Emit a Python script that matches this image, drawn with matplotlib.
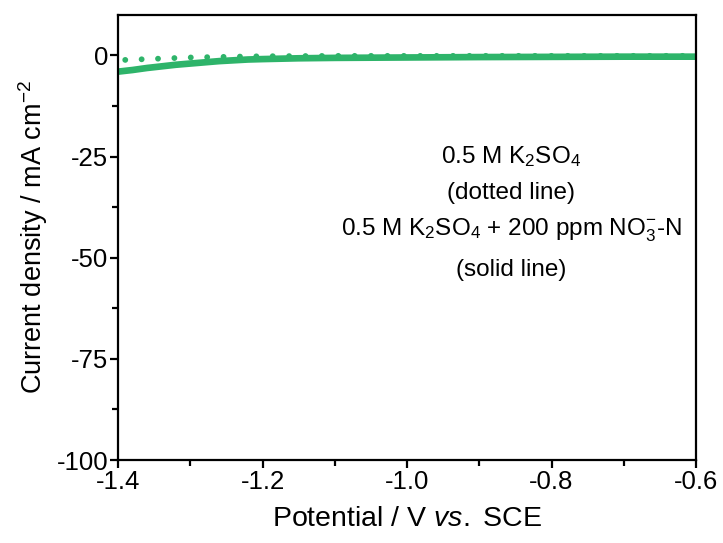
import matplotlib.pyplot as plt

plt.rcParams['font.family'] = ['Liberation Sans', 'DejaVu Sans']
plt.rcParams['mathtext.fontset'] = 'custom'
plt.rcParams['mathtext.rm'] = 'Liberation Sans'
plt.rcParams['mathtext.it'] = 'Liberation Sans:italic'

# K2SO4 only (dotted)
pot_dot = [-1.39, -1.36, -1.33, -1.30, -1.27, -1.24, -1.20, -1.15, -1.10, -1.0, -0.9, -0.8, -0.7, -0.6]
cur_dot = [-1.1, -0.9, -0.7, -0.5, -0.4, -0.3, -0.2, -0.15, -0.1, -0.1, -0.1, -0.1, -0.1, -0.1]
# K2SO4 + nitrate (solid)
pot_sol = [-1.4, -1.38, -1.36, -1.34, -1.32, -1.30, -1.28, -1.26, -1.24, -1.22, -1.20, -1.15, -1.10, -1.0, -0.9, -0.8, -0.7, -0.6]
cur_sol = [-4.0, -3.6, -3.1, -2.7, -2.3, -2.0, -1.7, -1.4, -1.2, -1.0, -0.9, -0.7, -0.6, -0.5, -0.4, -0.35, -0.3, -0.3]

green = '#2eb46a'

fig = plt.figure(figsize=(7.23, 5.43), dpi=100)
ax = fig.add_axes([118 / 723, 1 - 460 / 543, (696 - 118) / 723, (460 - 15) / 543])

ax.plot(pot_dot, cur_dot, color=green, lw=4.2, linestyle=(0, (0.01, 2.8)),
        dash_capstyle='round')
ax.plot(pot_sol, cur_sol, color=green, lw=4.8, solid_capstyle='butt')

ax.set_xlim(-1.4, -0.6)
ax.set_ylim(-100, 10)
ax.set_xticks([-1.4, -1.2, -1.0, -0.8, -0.6])
ax.set_xticklabels(['-1.4', '-1.2', '-1.0', '-0.8', '-0.6'])
ax.set_xticks([-1.3, -1.1, -0.9, -0.7], minor=True)
ax.set_yticks([-100, -75, -50, -25, 0])
ax.set_yticklabels(['-100', '-75', '-50', '-25', '0'])
ax.set_yticks([-87.5, -62.5, -37.5, -12.5], minor=True)

for s in ax.spines.values():
    s.set_linewidth(1.6)
ax.tick_params(which='major', length=6, width=1.6, labelsize=18.5, pad=1)
ax.tick_params(which='minor', length=4, width=1.6)

ax.set_xlabel(r'Potential / V $\it{vs.}$ SCE', fontsize=20.5, labelpad=9)
ax.set_ylabel(r'Current density / mA cm$^{-2}$', fontsize=19.5, labelpad=5)

tx = 0.680
fs = 17.5
ax.text(tx, 0.681, r'0.5 M K$_2$SO$_4$', transform=ax.transAxes, ha='center', va='center', fontsize=fs)
ax.text(tx, 0.600, '(dotted line)', transform=ax.transAxes, ha='center', va='center', fontsize=fs)
ax.text(tx, 0.517, r'0.5 M K$_2$SO$_4$ + 200 ppm NO$_3^{-}$-N', transform=ax.transAxes, ha='center', va='center', fontsize=fs)
ax.text(tx, 0.427, '(solid line)', transform=ax.transAxes, ha='center', va='center', fontsize=fs)

fig.savefig('out.png', dpi=100)
